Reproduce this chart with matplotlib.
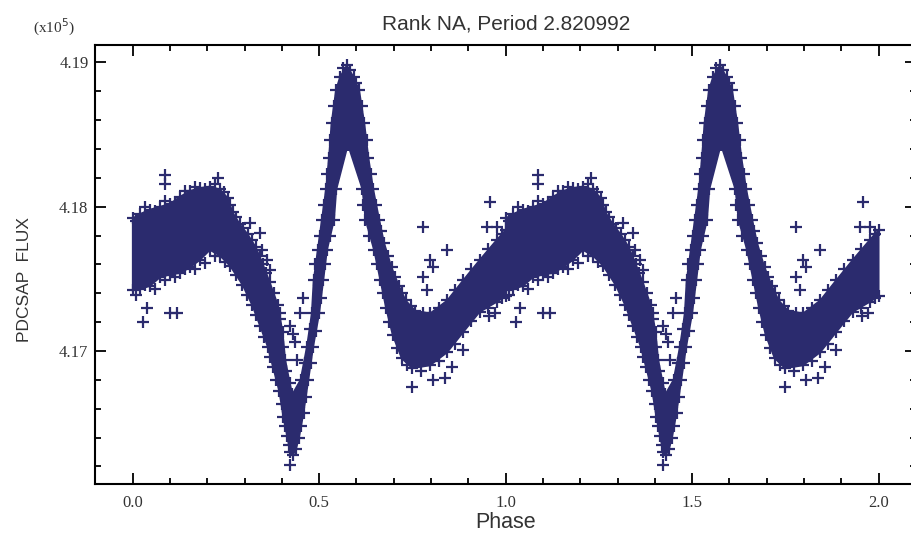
import matplotlib
matplotlib.use('Agg')
import matplotlib.pyplot as plt
from matplotlib.ticker import MultipleLocator, FormatStrFormatter
import numpy as np

# 一个周期的光变曲线（相位 0-1），流量单位 1e5
# 点云上沿
upper_phase = [0.000, 0.020, 0.046, 0.073, 0.100, 0.127, 0.154, 0.180, 0.207, 0.234, 0.255,
               0.268, 0.287, 0.308, 0.330, 0.349, 0.367, 0.389, 0.402, 0.409, 0.421, 0.428,
               0.450, 0.467, 0.480, 0.485, 0.496, 0.507, 0.518, 0.526, 0.533, 0.545, 0.556, 0.574,
               0.592, 0.607, 0.621, 0.632, 0.645, 0.661, 0.674, 0.694, 0.714, 0.732,
               0.757, 0.797, 0.843, 0.886, 0.930, 0.976, 1.000]
upper_flux = [4.1792, 4.1795, 4.1798, 4.1800, 4.1802, 4.1807, 4.1811, 4.1813, 4.1814, 4.1812, 4.1806,
              4.1796, 4.1788, 4.1781, 4.1772, 4.1760, 4.1748, 4.1732, 4.1713, 4.1694, 4.1678, 4.1670,
              4.1680, 4.1703, 4.1726, 4.1749, 4.1770, 4.1791, 4.1812, 4.1834, 4.1858, 4.1881, 4.1890, 4.1898,
              4.1890, 4.1881, 4.1858, 4.1834, 4.1812, 4.1791, 4.1775, 4.1758, 4.1745, 4.1735,
              4.1728, 4.1726, 4.1735, 4.1749, 4.1763, 4.1777, 4.1784]
# 点云下沿
lower_phase = [0.000, 0.020, 0.046, 0.073, 0.100, 0.127, 0.154, 0.180, 0.207, 0.234, 0.261,
               0.294, 0.320, 0.342, 0.362, 0.376, 0.393, 0.404, 0.414, 0.422, 0.430,
               0.438, 0.446, 0.458, 0.471, 0.484, 0.500, 0.511, 0.521, 0.540, 0.546, 0.577,
               0.616, 0.624, 0.647, 0.664, 0.679, 0.697, 0.721,
               0.749, 0.797, 0.843, 0.886, 0.930, 0.976, 1.000]
lower_flux = [4.1742, 4.1743, 4.1745, 4.1751, 4.1753, 4.1754, 4.1758, 4.1763, 4.1770, 4.1766, 4.1759,
              4.1746, 4.1732, 4.1717, 4.1703, 4.1689, 4.1672, 4.1654, 4.1641, 4.1630, 4.1628,
              4.1632, 4.1640, 4.1657, 4.1680, 4.1703, 4.1726, 4.1749, 4.1770, 4.1791, 4.1812, 4.1843,
              4.1812, 4.1791, 4.1770, 4.1749, 4.1730, 4.1711, 4.1695,
              4.1688, 4.1690, 4.1699, 4.1713, 4.1727, 4.1734, 4.1738]
# 上沿附近的散点
edge_hi_phase = [0.010, 0.033, 0.060, 0.087, 0.113, 0.140, 0.167, 0.193, 0.220, 0.245,
                 0.262, 0.278, 0.297, 0.320, 0.340, 0.358, 0.378, 0.396, 0.404, 0.412,
                 0.462, 0.476, 0.490, 0.502, 0.512, 0.522, 0.530, 0.539, 0.565,
                 0.583, 0.600, 0.614, 0.627, 0.638, 0.653, 0.667, 0.684, 0.704, 0.723, 0.745,
                 0.777, 0.820, 0.865, 0.908, 0.953, 0.990]
edge_hi_flux = [4.1790, 4.1800, 4.1797, 4.1804, 4.1803, 4.1811, 4.1814, 4.1812, 4.1816, 4.1810,
                4.1801, 4.1793, 4.1785, 4.1777, 4.1766, 4.1754, 4.1740, 4.1722, 4.1703, 4.1686,
                4.1692, 4.1715, 4.1760, 4.1780, 4.1801, 4.1823, 4.1846, 4.1870, 4.1896,
                4.1895, 4.1886, 4.1870, 4.1846, 4.1823, 4.1801, 4.1783, 4.1766, 4.1751, 4.1740, 4.1731,
                4.1726, 4.1730, 4.1742, 4.1757, 4.1771, 4.1781]
# 下沿附近的散点
edge_lo_phase = [0.010, 0.033, 0.060, 0.087, 0.113, 0.140, 0.167, 0.193, 0.220,
                 0.248, 0.277, 0.307, 0.331, 0.352, 0.369, 0.385, 0.399, 0.409, 0.418,
                 0.452, 0.464, 0.478, 0.492, 0.505, 0.516, 0.530,
                 0.617, 0.634, 0.655, 0.672, 0.688, 0.709, 0.735,
                 0.773, 0.820, 0.865, 0.908, 0.953, 0.990]
edge_lo_flux = [4.1739, 4.1746, 4.1743, 4.1749, 4.1751, 4.1757, 4.1757, 4.1761, 4.1766,
                4.1762, 4.1753, 4.1739, 4.1725, 4.1710, 4.1696, 4.1680, 4.1663, 4.1648, 4.1635,
                4.1648, 4.1668, 4.1692, 4.1714, 4.1737, 4.1760, 4.1780,
                4.1801, 4.1780, 4.1760, 4.1740, 4.1720, 4.1702, 4.1690,
                4.1686, 4.1693, 4.1705, 4.1721, 4.1730, 4.1737]
# 离散点
out_phase = [0.087, 0.087, 0.028, 0.038, 0.100, 0.119, 0.229, 0.342, 0.368, 0.395,
             0.457, 0.449, 0.422, 0.430, 0.435, 0.440, 0.777, 0.958, 0.843, 0.797,
             0.805, 0.778, 0.789, 0.950, 0.977, 0.886, 0.856, 0.749, 0.805, 0.838,
             0.422, 0.314, 0.347, 0.360, 0.955, 0.972]
out_flux = [4.1822, 4.1816, 4.1720, 4.1730, 4.1726, 4.1726, 4.1820, 4.1782, 4.1756, 4.1726,
            4.1737, 4.1726, 4.1717, 4.1712, 4.1706, 4.1694, 4.1786, 4.1803, 4.1770, 4.1763,
            4.1758, 4.1751, 4.1742, 4.1786, 4.1786, 4.1701, 4.1689, 4.1675, 4.1680, 4.1681,
            4.1621, 4.1789, 4.1770, 4.1763, 4.1724, 4.1726]
cycles = [0, 1]

navy = '#2b2b6e'
grey = '#333333'
mk = dict(color=navy, ms=8.5, mew=1.6, ls='none', marker='+')

fig = plt.figure(figsize=(9.12, 5.37), dpi=100)
ax = fig.add_axes([95.4 / 912, 53 / 537, 820.6 / 912, 439 / 537])

up_p = np.array(upper_phase)
lo_p = np.array(lower_phase)
for k in cycles:
    ax.fill(np.r_[up_p, lo_p[::-1]] + k, upper_flux + lower_flux[::-1], color=navy, lw=1.2)
    ax.plot(up_p + k, upper_flux, **mk)
    ax.plot(lo_p + k, lower_flux, **mk)
    ax.plot(np.array(edge_hi_phase) + k, edge_hi_flux, **mk)
    ax.plot(np.array(edge_lo_phase) + k, edge_lo_flux, **mk)
    ax.plot(np.array(out_phase) + k, out_flux, **mk)

ax.set_xlim(-0.1, 2.1)
ax.set_ylim(4.16078, 4.19121)
ax.xaxis.set_major_locator(MultipleLocator(0.5))
ax.xaxis.set_minor_locator(MultipleLocator(0.1))
ax.yaxis.set_major_locator(MultipleLocator(0.01))
ax.yaxis.set_minor_locator(MultipleLocator(0.002))
ax.xaxis.set_major_formatter(FormatStrFormatter('%.1f'))
ax.yaxis.set_major_formatter(FormatStrFormatter('%.2f'))
ax.tick_params(which='both', direction='in', top=True, right=True, color='black', width=1.3)
ax.tick_params(which='major', length=8, labelsize=12, labelcolor=grey)
ax.tick_params(which='minor', length=4.5)
ax.tick_params(axis='x', which='major', pad=8)
ax.tick_params(axis='y', which='major', pad=5)
for lab in ax.get_xticklabels() + ax.get_yticklabels():
    lab.set_family('Liberation Serif')
for s in ax.spines.values():
    s.set_linewidth(1.5)

ax.set_title('Rank NA, Period 2.820992', fontsize=15, color=grey, family='Liberation Sans', pad=11)
ax.set_xlabel('Phase', fontsize=15.5, color=grey, family='Liberation Sans', labelpad=1)
ax.set_ylabel('PDCSAP  FLUX', fontsize=12.5, color=grey, family='Liberation Sans')
ax.yaxis.set_label_coords(-0.0773, 0.465)
fig.text(33 / 912, 1 - 27 / 537, '(x10$^5$)', fontsize=11, color=grey, family='Liberation Serif',
         va='center', ha='left')

fig.savefig('out.png', dpi=100)
